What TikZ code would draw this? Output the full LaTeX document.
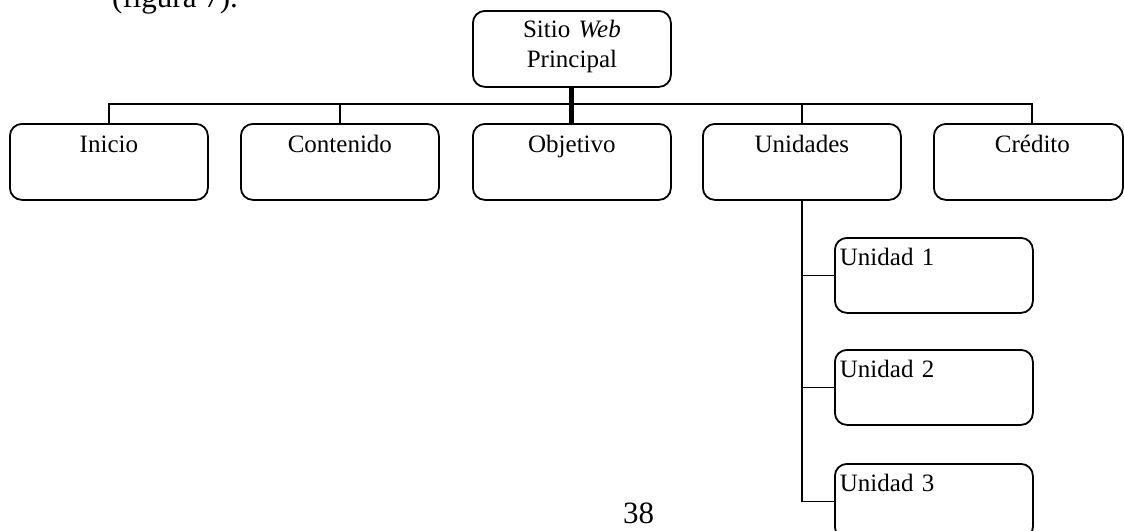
\documentclass[tikz,border=0pt]{standalone}
\usepackage{fontspec}
\setmainfont{Liberation Serif}
\usetikzlibrary{calc}
\begin{document}
\begin{tikzpicture}[x=1pt,y=-1pt,
  lnk/.style={line width=1.8pt, black},
  box/.style={draw, line width=1.8pt, rounded corners=12pt, inner sep=0pt,
    anchor=north west, font=\fontsize{25}{30}\selectfont,
    text height=29pt, text depth=47pt},
  cbox/.style={box, text width=198pt, align=center},
  ubox/.style={box, inner xsep=5pt, text width=188pt, align=left,
    text height=28pt, text depth=47pt}]
\useasboundingbox (0,0) rectangle (1124,530);

% running text and page number
\node[anchor=base west, inner sep=0pt, font=\fontsize{31}{36}\selectfont] (fig) at (112,8) {(figura 7).};
\node[anchor=base west, inner sep=0pt, font=\fontsize{31}{36}\selectfont] (pg) at (623,523) {38};

% root
\node[box, text width=198pt, align=center, text height=27pt, text depth=49pt] (root) at (472,10)
  {Sitio \textit{Web}\\Principal};

% first level
\node[cbox] (ini)  at (9,123)   {Inicio};
\node[cbox] (cont) at (240,123) {Contenido};
\node[cbox] (obj)  at (472,123) {Objetivo};
\node[cbox] (unid) at (702,123) {Unidades};
\node[box, text width=189pt, align=center] (cred) at (933,123) {\hspace*{8pt}Crédito};

% second level
\node[ubox] (u1) at (834,237) {Unidad 1};
\node[ubox] (u2) at (834,349) {Unidad 2};
\node[ubox] (u3) at (834,463) {Unidad 3};

% bus
\coordinate (bus) at (570,104);
\coordinate (credtop) at ($(cred.north west)+(99,0)$);
\draw[lnk] (ini.north) -- (ini.north |- bus) -- (credtop |- bus) -- (credtop);
\draw[lnk] (cont.north) -- (cont.north |- bus);
\draw[lnk] (unid.north) -- (unid.north |- bus);
\draw[line width=5pt] (root.south) -- (obj.north);

% units branch
\draw[lnk] (unid.south) -- (unid.south |- u3.west) -- (u3.west);
\draw[lnk] (unid.south |- u1.west) -- (u1.west);
\draw[lnk] (unid.south |- u2.west) -- (u2.west);
\end{tikzpicture}
\end{document}
